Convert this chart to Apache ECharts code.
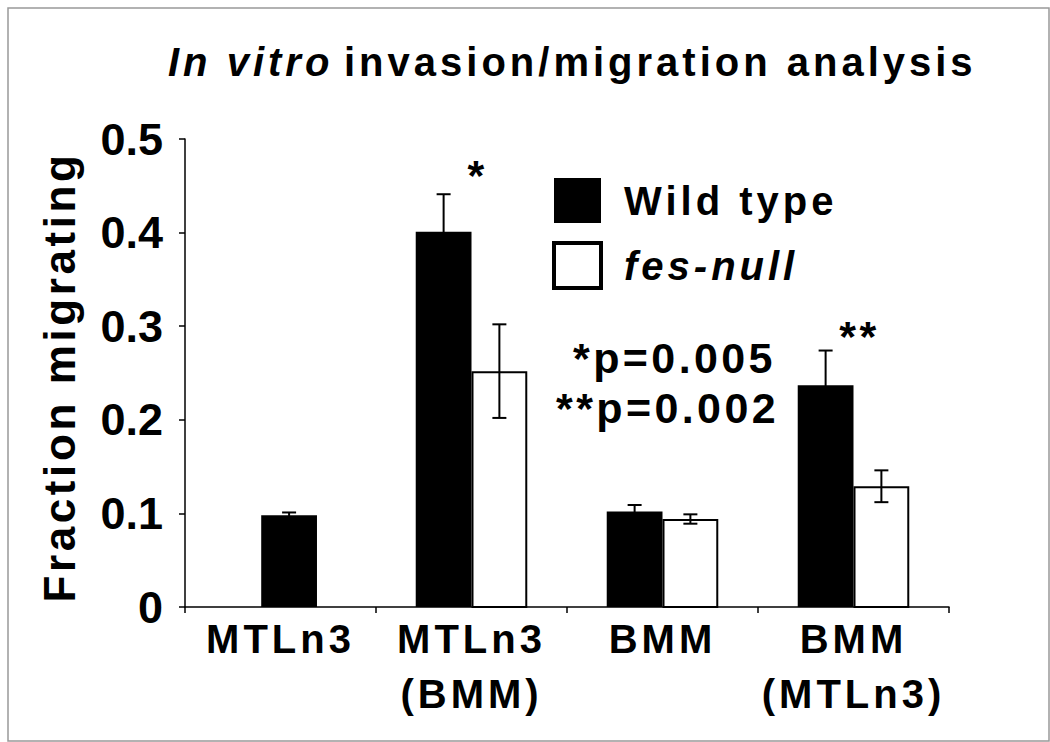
<!DOCTYPE html>
<html>
<head>
<meta charset="utf-8">
<script src="https://cdn.jsdelivr.net/npm/echarts@6/dist/echarts.min.js"></script>
<style>
  html, body { margin: 0; padding: 0; background: #fff; }
  #chart { width: 1050px; height: 742px; }
  /* tracking of the reference text, keyed by font size */
  #chart svg text[style*="40px"] { letter-spacing: 4px; }
  #chart svg text[style*="43px"] { letter-spacing: 3.4px; }
  #chart svg text[style*="44px"] { letter-spacing: 3.6px; }
</style>
</head>
<body>
<div id="chart"></div>
<script>
// ---- data ----
const categories = ['MTLn3', 'MTLn3\n(BMM)', 'BMM', 'BMM\n(MTLn3)'];
const wildType    = [0.098, 0.401, 0.102, 0.237];
const wildTypeErr = [0.003, 0.040, 0.007, 0.037];
const fesNull     = [null, 0.252, 0.094, 0.129];
const fesNullErr  = [null, 0.050, 0.005, 0.017];
const sigMarks    = ['', '*', '', '**'];
const sigLevel    = [null, 0.462, null, 0.290];
const yTicks      = [0, 0.1, 0.2, 0.3, 0.4, 0.5];
const pValueLines = ['*p=0.005', '**p=0.002'];

const FONT = '"Liberation Sans", Arial, sans-serif';

function makeData(vals, errs) {
  return vals.map((v, i) => [i, v, errs[i]]);
}

function renderBar(seriesIdx) {
  return function (params, api) {
    const i = api.value(0);
    const v = api.value(1);
    const e = api.value(2);
    if (v == null || isNaN(v)) return null;
    const band = api.size([1, 0])[0];
    const bw = band * 0.292;
    const center = api.coord([i, 0])[0];
    const other = seriesIdx === 0 ? fesNull[i] : wildType[i];
    let cx;
    if (other == null) {
      cx = center + band * 0.045;           // lone bar sits near the middle
    } else {
      cx = seriesIdx === 0 ? center - bw / 2 : center + bw / 2;
    }
    const top = api.coord([i, v])[1];
    const base = api.coord([i, 0])[1];
    const hi = api.coord([i, v + e])[1];
    const lo = api.coord([i, v - e])[1];
    const cap = 7;
    const children = [];
    if (seriesIdx === 0) {
      children.push({ type: 'rect', shape: { x: cx - bw / 2, y: top, width: bw, height: base - top },
        style: { fill: '#000' } });
    } else {
      children.push({ type: 'rect', shape: { x: cx - bw / 2 + 1, y: top + 1, width: bw - 2, height: base - top - 1 },
        style: { fill: '#fff', stroke: '#000', lineWidth: 2 } });
    }
    const ls = { stroke: '#000', lineWidth: 2 };
    children.push({ type: 'line', shape: { x1: cx, y1: lo, x2: cx, y2: hi }, style: ls });
    children.push({ type: 'line', shape: { x1: cx - cap, y1: hi, x2: cx + cap, y2: hi }, style: ls });
    children.push({ type: 'line', shape: { x1: cx - cap, y1: lo, x2: cx + cap, y2: lo }, style: ls });
    if (seriesIdx === 0 && sigMarks[i]) {
      const sy = api.coord([i, sigLevel[i]])[1];
      children.push({ type: 'text', x: center + 6, y: sy,
        style: { text: sigMarks[i], fill: '#000', font: 'bold 43px ' + FONT, align: 'center', verticalAlign: 'middle' } });
    }
    return { type: 'group', children: children };
  };
}

const chart = echarts.init(document.getElementById('chart'), null, { renderer: 'svg' });

chart.setOption({
  backgroundColor: '#fff',
  animation: false,
  title: [
    { text: 'In vitro', left: 168, top: 42, padding: 0,
      textStyle: { fontFamily: FONT, fontSize: 40, fontWeight: 'bold', fontStyle: 'italic', color: '#000' } },
    { text: 'invasion/migration analysis', left: 344, top: 42, padding: 0,
      textStyle: { fontFamily: FONT, fontSize: 40, fontWeight: 'bold', color: '#000' } }
  ],
  legend: {
    orient: 'vertical', left: 552, top: 178, padding: 0,
    itemWidth: 47, itemHeight: 45, itemGap: 18, icon: 'rect', selectedMode: false,
    textStyle: { fontFamily: FONT, fontSize: 40, fontWeight: 'bold', color: '#000' },
    data: [
      { name: 'Wild type', itemStyle: { color: '#000', borderWidth: 0 },
        textStyle: { padding: [4, 0, 0, 18] } },
      { name: 'fes-null', itemStyle: { color: '#fff', borderColor: '#000', borderWidth: 4 },
        textStyle: { fontStyle: 'italic', padding: [0, 0, 13, 18] } }
    ]
  },
  grid: { left: 185, right: 101, top: 139, bottom: 135, containLabel: false },
  xAxis: {
    type: 'category', data: categories, boundaryGap: true,
    axisLine: { lineStyle: { color: '#000', width: 1.5 } },
    axisTick: { show: true, length: 6, lineStyle: { color: '#000', width: 1.5 } },
    axisLabel: { fontFamily: FONT, fontSize: 40, fontWeight: 'bold', color: '#000', lineHeight: 55, margin: 4, interval: 0 },
    splitLine: { show: false }
  },
  yAxis: {
    type: 'value', min: yTicks[0], max: yTicks[yTicks.length - 1], interval: 0.1,
    name: 'Fraction migrating', nameLocation: 'middle', nameGap: 104, nameRotate: 90,
    nameTextStyle: { fontFamily: FONT, fontSize: 44, fontWeight: 'bold', color: '#000', padding: [0, 8, 0, 0] },
    axisLine: { show: true, lineStyle: { color: '#000', width: 1.5 } },
    axisTick: { show: true, length: 6, lineStyle: { color: '#000', width: 1.5 } },
    axisLabel: { fontFamily: FONT, fontSize: 45, fontWeight: 'bold', color: '#000', margin: 22 },
    splitLine: { show: false }
  },
  series: [
    { type: 'custom', name: 'Wild type', renderItem: renderBar(0), data: makeData(wildType, wildTypeErr),
      itemStyle: { color: '#000' }, encode: { x: 0, y: 1 }, clip: false, z: 3 },
    { type: 'custom', name: 'fes-null', renderItem: renderBar(1), data: makeData(fesNull, fesNullErr),
      itemStyle: { color: '#fff', borderColor: '#000', borderWidth: 2 }, encode: { x: 0, y: 1 }, clip: false, z: 2 }
  ],
  graphic: [
    { type: 'rect', shape: { x: 8, y: 8, width: 1041, height: 733 },
      style: { fill: 'none', stroke: '#999', lineWidth: 1.5 }, silent: true },
    { type: 'text', x: 573, y: 358, style: { text: pValueLines[0], font: 'bold 43px ' + FONT, fill: '#000',
      align: 'left', verticalAlign: 'middle' } },
    { type: 'text', x: 556, y: 408, style: { text: pValueLines[1], font: 'bold 43px ' + FONT, fill: '#000',
      align: 'left', verticalAlign: 'middle' } }
  ]
});
</script>
</body>
</html>
